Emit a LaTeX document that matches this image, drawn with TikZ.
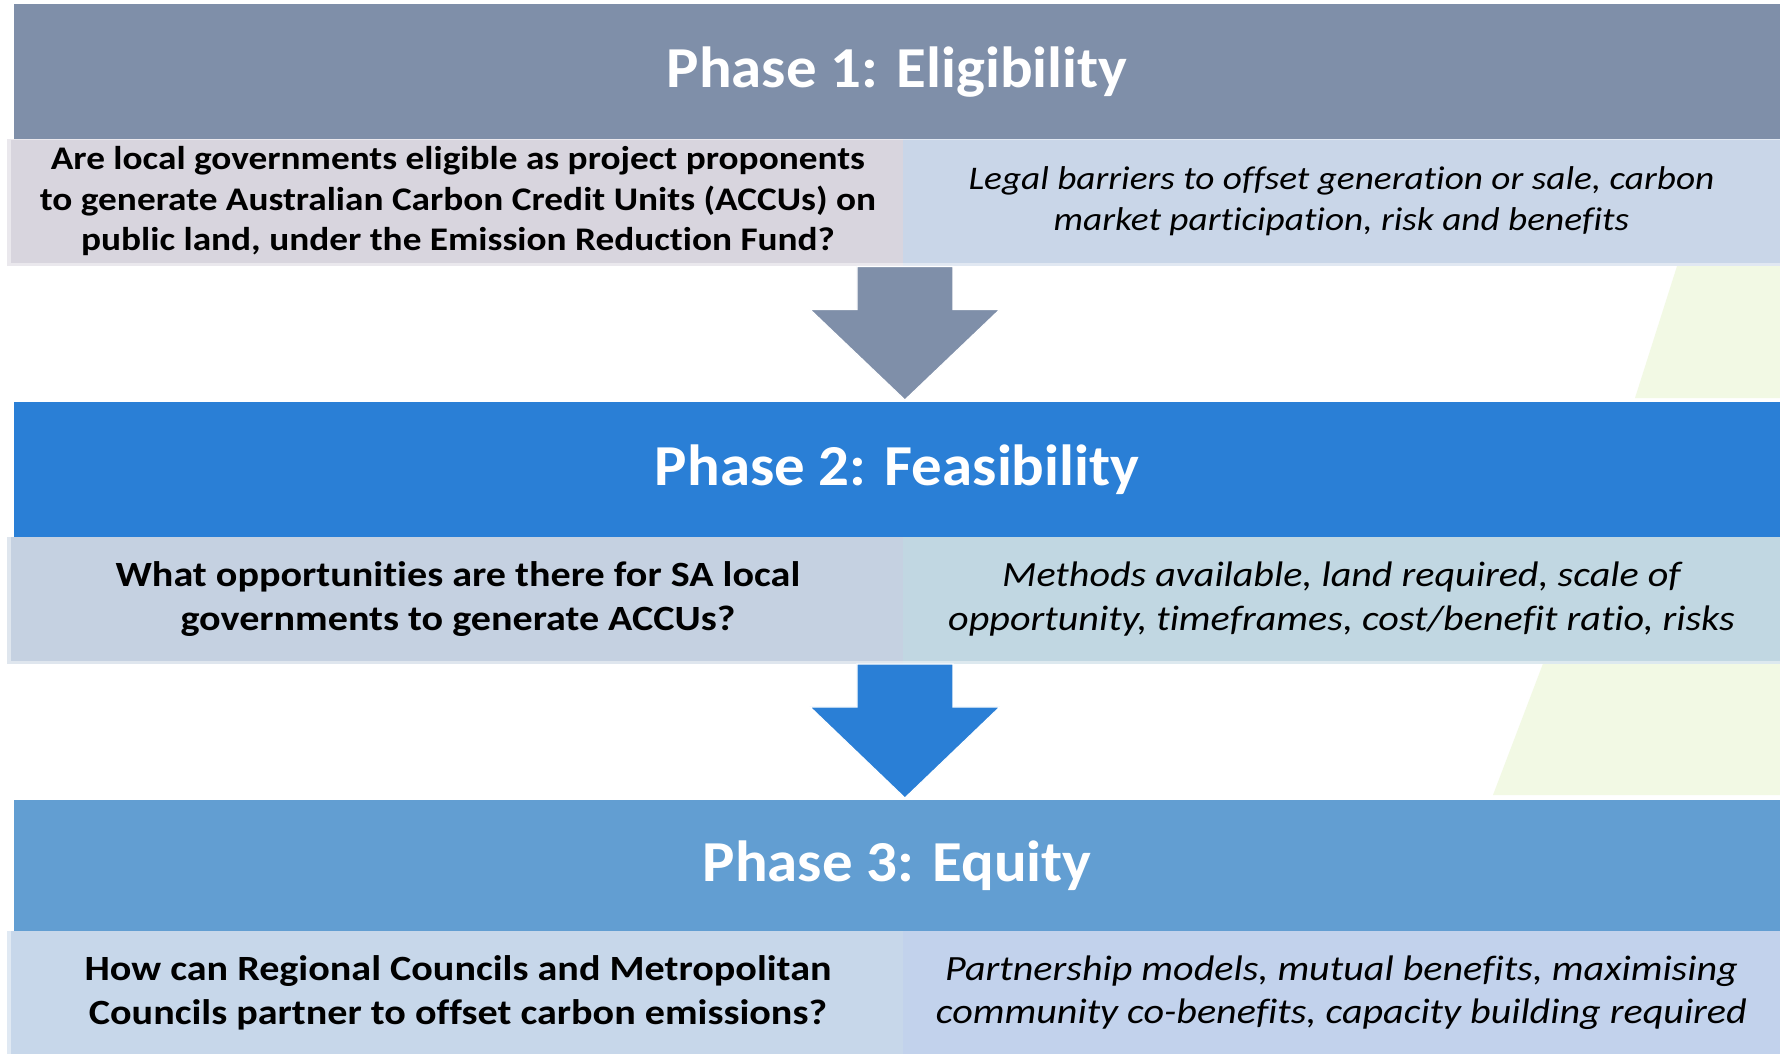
\documentclass[tikz,border=0pt]{standalone}
\usepackage{fontspec}
\setmainfont{Carlito}[FakeStretch=1.13, Ligatures=CommonOff]
\newfontfamily\titlefont{Carlito}[FakeStretch=1.05, Ligatures=CommonOff]
\usetikzlibrary{calc}
\definecolor{hOne}{RGB}{127,143,169}
\definecolor{hTwo}{RGB}{42,127,214}
\definecolor{hThree}{RGB}{98,158,210}
\definecolor{cOneL}{RGB}{216,213,222}
\definecolor{cOneR}{RGB}{201,214,232}
\definecolor{cTwoL}{RGB}{197,209,225}
\definecolor{cTwoR}{RGB}{193,215,226}
\definecolor{cThreeL}{RGB}{199,215,234}
\definecolor{cThreeR}{RGB}{194,210,236}
\definecolor{faintgreen}{RGB}{242,249,228}
\tikzset{
  header/.style={rectangle, anchor=north west, inner sep=0pt, minimum width=1767pt,
    minimum height=#1, text=white, font=\titlefont\bfseries\fontsize{58}{70}\selectfont},
  cellL/.style n args={2}{rectangle, anchor=north west, inner sep=0pt, minimum width=893.5pt,
    minimum height=123.5pt, align=center, font=\bfseries\fontsize{#1}{#2}\selectfont},
  cellR/.style n args={2}{rectangle, anchor=north west, inner sep=0pt, minimum width=877.5pt,
    minimum height=123.5pt, align=center, font=\itshape\fontsize{#1}{#2}\selectfont},
  rim/.style={fill=#1!55!white},
  blockarrow/.style={fill=#1, draw=white, line width=1.2pt, line join=miter}
}
\begin{document}
\begin{tikzpicture}[x=1pt,y=-1pt]
\useasboundingbox (0,0) rectangle (1780,1054);
\fill[white] (0,0) rectangle (1780,1054);
% faint green background patches
\fill[faintgreen] (1678,263) -- (1780,263) -- (1780,398) -- (1635,398) -- cycle;
\fill[faintgreen] (1544,661) -- (1780,661) -- (1780,795) -- (1493,795) -- cycle;

% Phase 1
\node[header=136pt, fill=hOne] (h1) at (13.5,3.5) {Phase 1: Eligibility};
\fill[rim=cOneL] (7,139.5) rectangle (902.5,266);
\fill[rim=cOneR] (902.5,139.5) rectangle (1780,266);
\node[cellL={33}{40.5}, fill=cOneL] (r1L) at (11,139.5) {Are local governments eligible as project proponents\\to generate Australian Carbon Credit Units (ACCUs) on\\public land, under the Emission Reduction Fund?};
\node[cellR={33}{40.5}, fill=cOneR] (r1R) at (902.5,139.5) {Legal barriers to offset generation or sale, carbon\\market participation, risk and benefits};

% Phase 2
\node[header=135pt, fill=hTwo] (h2) at (13.5,402) {Phase 2: Feasibility};
\fill[rim=cTwoL] (7,537) rectangle (902.5,663.5);
\fill[rim=cTwoR] (902.5,537) rectangle (1780,663.5);
\node[cellL={35.5}{43.5}, fill=cTwoL] (r2L) at (11,537) {What opportunities are there for SA local\\governments to generate ACCUs?};
\node[cellR={35.5}{43.5}, fill=cTwoR] (r2R) at (902.5,537) {Methods available, land required, scale of\\opportunity, timeframes, cost/benefit ratio, risks};

% Phase 3
\node[header=131pt, fill=hThree] (h3) at (13.5,800) {Phase 3: Equity};
\fill[rim=cThreeL] (7,931) rectangle (902.5,1054);
\node[cellL={35.5}{43.5}, fill=cThreeL, minimum height=123pt] (r3L) at (11,931) {How can Regional Councils and Metropolitan\\Councils partner to offset carbon emissions?};
\node[cellR={35.5}{43.5}, fill=cThreeR, minimum height=123pt] (r3R) at (902.5,931) {Partnership models, mutual benefits, maximising\\community co-benefits, capacity building required};

% block arrows
\coordinate (a1) at ($(r1L.south east)+(0,3)$);
\coordinate (t1) at (h2.north -| a1);
\filldraw[blockarrow=hOne] ($(a1)+(-48,0)$) -- ($(a1)+(48,0)$) -- ($(a1)+(48,43)$) -- ($(a1)+(95,43)$)
  -- ($(t1)+(0,-2)$) -- ($(a1)+(-95,43)$) -- ($(a1)+(-48,43)$) -- cycle;
\coordinate (a2) at ($(r2L.south east)+(0,3)$);
\coordinate (t2) at (h3.north -| a2);
\filldraw[blockarrow=hTwo] ($(a2)+(-48,0)$) -- ($(a2)+(48,0)$) -- ($(a2)+(48,43)$) -- ($(a2)+(95,43)$)
  -- ($(t2)+(0,-2)$) -- ($(a2)+(-95,43)$) -- ($(a2)+(-48,43)$) -- cycle;
\end{tikzpicture}
\end{document}
